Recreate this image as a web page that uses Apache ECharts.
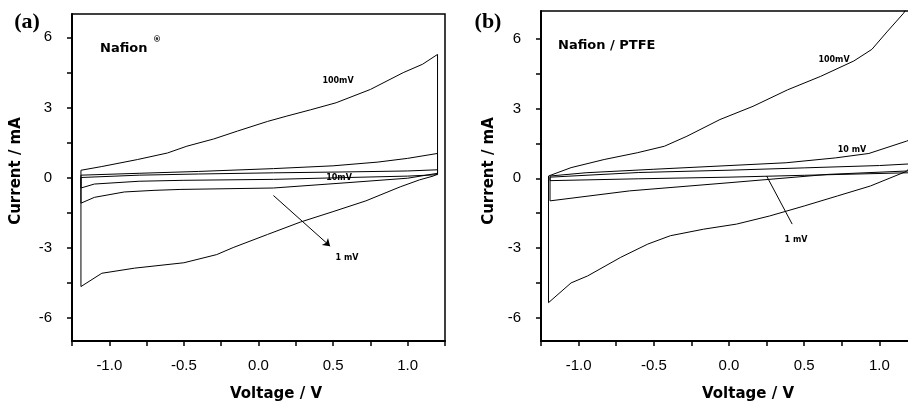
<!DOCTYPE html>
<html>
<head>
<meta charset="utf-8">
<script src="https://cdn.jsdelivr.net/npm/echarts@6/dist/echarts.min.js"></script>
<style>
  html, body { margin: 0; padding: 0; background: #fff; }
  #main { width: 908px; height: 404px; }
</style>
</head>
<body>
<div id="main"></div>
<script>
// tick values
var xTicks = [-1.25, -1, -0.75, -0.5, -0.25, 0, 0.25, 0.5, 0.75, 1, 1.25]
var xLabels = [-1, -0.5, 0, 0.5, 1]
var yTicks = [-6, -4.5, -3, -1.5, 0, 1.5, 3, 4.5, 6]
var yLabels = [-6, -3, 0, 3, 6]

// (a) Nafion, cyclic voltammograms [voltage V, current mA]
var nafion100 = [
  [-1.19, 0.31], [-1.05, 0.47], [-0.81, 0.77], [-0.61, 1.05], [-0.48, 1.34], [-0.3, 1.65],
  [-0.14, 1.99], [0.06, 2.4], [0.19, 2.63], [0.35, 2.9], [0.52, 3.2], [0.75, 3.77],
  [0.97, 4.49], [1.1, 4.85], [1.2, 5.27],
  [1.2, 0.15], [1.17, 0.06], [1.08, -0.1], [0.95, -0.4], [0.72, -1.0], [0.5, -1.46],
  [0.28, -1.91], [0.06, -2.44], [-0.17, -3.0], [-0.28, -3.3], [-0.5, -3.65], [-0.83, -3.88],
  [-1.05, -4.1], [-1.19, -4.67], [-1.19, 0.31]
]
var nafion10 = [
  [-1.19, 0.1], [-0.8, 0.18], [-0.4, 0.26], [0.1, 0.38], [0.5, 0.5], [0.8, 0.66], [1.0, 0.82], [1.2, 1.03],
  [1.2, 0.18], [1.0, -0.03], [0.6, -0.22], [0.1, -0.45], [-0.52, -0.51], [-0.7, -0.55],
  [-0.9, -0.62], [-1.1, -0.85], [-1.19, -1.1], [-1.19, 0.1]
]
var nafion1 = [
  [-1.19, 0.0], [-0.8, 0.1], [-0.4, 0.15], [0.1, 0.2], [0.6, 0.24], [1.0, 0.28], [1.2, 0.33],
  [1.2, 0.12], [1.0, 0.06], [0.6, 0.0], [0.1, -0.08], [-0.5, -0.12], [-0.8, -0.16],
  [-1.1, -0.28], [-1.19, -0.45], [-1.19, 0.0]
]

// (b) Nafion / PTFE
var ptfe100 = [
  [-1.2, 0.1], [-1.19, 0.17], [-1.05, 0.46], [-0.83, 0.81], [-0.61, 1.1], [-0.43, 1.38],
  [-0.28, 1.81], [-0.06, 2.53], [0.16, 3.1], [0.39, 3.81], [0.61, 4.39], [0.83, 5.05],
  [0.95, 5.55], [1.05, 6.3], [1.16, 7.1], [1.2, 7.5],
  [1.2, 0.45], [1.18, 0.3], [0.94, -0.33], [0.72, -0.76], [0.5, -1.19], [0.27, -1.62],
  [0.05, -1.97], [-0.17, -2.19], [-0.39, -2.47], [-0.54, -2.83], [-0.72, -3.4],
  [-0.94, -4.2], [-1.05, -4.5], [-1.2, -5.35], [-1.2, 0.1]
]
var ptfe10 = [
  [-1.19, 0.1], [-0.95, 0.24], [-0.5, 0.39], [-0.06, 0.53], [0.38, 0.67], [0.71, 0.88],
  [0.93, 1.07], [1.18, 1.6], [1.2, 1.65],
  [1.2, 0.32], [0.66, 0.17], [0.0, -0.19], [-0.66, -0.54], [-1.19, -0.97], [-1.19, 0.1]
]
var ptfe1 = [
  [-1.19, 0.05], [-0.6, 0.25], [0.0, 0.35], [0.5, 0.45], [1.0, 0.55], [1.2, 0.62],
  [1.2, 0.24], [0.5, 0.13], [0.0, 0.05], [-0.6, -0.02], [-1.19, -0.1], [-1.19, 0.05]
]

// arrows showing decreasing scan rate
var arrowA = [[0.1, -0.77], [0.48, -2.94]]
var arrowB = [[0.25, 0.1], [0.42, -1.97]]

var chart = echarts.init(document.getElementById('main'))

function xAxisOpt (idx, max) {
  return {
    type: 'value',
    gridIndex: idx,
    min: -1.25,
    max: max,
    axisLine: { onZero: false, lineStyle: { color: '#000', width: 2 } },
    axisTick: { customValues: xTicks, length: 5, lineStyle: { color: '#000', width: 1.5 } },
    axisLabel: {
      customValues: xLabels,
      formatter: function (v) { return v.toFixed(1) },
      color: '#000',
      fontFamily: 'Liberation Sans',
      fontSize: 15,
      margin: 17
    },
    splitLine: { show: false }
  }
}

function yAxisOpt (idx, max) {
  return {
    type: 'value',
    gridIndex: idx,
    min: -7,
    max: max,
    axisLine: { onZero: false, lineStyle: { color: '#000', width: 2 } },
    axisTick: { customValues: yTicks, length: 5, lineStyle: { color: '#000', width: 1.5 } },
    axisLabel: {
      customValues: yLabels,
      color: '#000',
      fontFamily: 'Liberation Sans',
      fontSize: 15,
      margin: 20
    },
    splitLine: { show: false }
  }
}

function cv (data, idx) {
  return {
    type: 'line',
    xAxisIndex: idx,
    yAxisIndex: idx,
    data: data,
    showSymbol: false,
    clip: true,
    animation: false,
    lineStyle: { color: '#000', width: 1 }
  }
}

function arrow (pts, idx, head) {
  return {
    type: 'line',
    xAxisIndex: idx,
    yAxisIndex: idx,
    data: [],
    animation: false,
    markLine: {
      silent: true,
      symbol: ['none', head ? 'arrow' : 'none'],
      symbolSize: 7,
      label: { show: false },
      lineStyle: { color: '#000', width: 1, type: 'solid' },
      data: [[{ coord: pts[0] }, { coord: pts[1] }]]
    }
  }
}

function txt (x, y, text, style, rot) {
  return {
    type: 'text',
    x: x,
    y: y,
    rotation: rot || 0,
    style: Object.assign({ text: text, textAlign: 'center', textVerticalAlign: 'middle' }, style)
  }
}
var titleFont = { fontFamily: 'DejaVu Sans', fontWeight: 'bold', fontSize: 15, fill: '#000' }
var small = { fontFamily: 'DejaVu Sans', fontWeight: 'bold', fontSize: 8, fill: '#000' }
var nameFont = { fontFamily: 'DejaVu Sans', fontWeight: 'bold', fontSize: 13, fill: '#000' }
var panelFont = { fontFamily: 'Liberation Serif', fontWeight: 'bold', fontSize: 22, fill: '#000' }

// top border line for panel (b), which runs off the right edge
var topLine = {
  type: 'value',
  gridIndex: 1,
  position: 'top',
  min: -1.25,
  max: 1.19,
  axisLine: { onZero: false, lineStyle: { color: '#000', width: 1.5 } },
  axisTick: { show: false },
  axisLabel: { show: false },
  splitLine: { show: false }
}

chart.setOption({
  animation: false,
  grid: [
    { left: 72, top: 14, width: 373, height: 327, show: true, borderColor: '#000', borderWidth: 1.5 },
    { left: 541, top: 11, width: 367, height: 330 }
  ],
  xAxis: [xAxisOpt(0, 1.25), xAxisOpt(1, 1.19), topLine],
  yAxis: [yAxisOpt(0, 7), yAxisOpt(1, 7.2)],
  series: [
    cv(nafion100, 0), cv(nafion10, 0), cv(nafion1, 0),
    cv(ptfe100, 1), cv(ptfe10, 1), cv(ptfe1, 1),
    arrow(arrowA, 0, true), arrow(arrowB, 1, false)
  ],
  graphic: [
    txt(27, 22, '(a)', panelFont),
    txt(488, 22, '(b)', panelFont),
    txt(16, 171, 'Current / mA', titleFont, Math.PI / 2),
    txt(489, 171, 'Current / mA', titleFont, Math.PI / 2),
    txt(276, 394, 'Voltage / V', titleFont),
    txt(748, 394, 'Voltage / V', titleFont),
    { type: 'text', x: 100, y: 42, style: Object.assign({ text: 'Nafion' }, nameFont) },
    { type: 'text', x: 153, y: 36, style: Object.assign({ text: '®' }, small) },
    { type: 'text', x: 558, y: 39, style: Object.assign({ text: 'Nafion / PTFE' }, nameFont) },
    txt(338, 81, '100mV', small),
    txt(339, 178, '10mV', small),
    txt(347, 258, '1 mV', small),
    txt(834, 60, '100mV', small),
    txt(852, 150, '10 mV', small),
    txt(796, 240, '1 mV', small)
  ]
})
</script>
</body>
</html>
